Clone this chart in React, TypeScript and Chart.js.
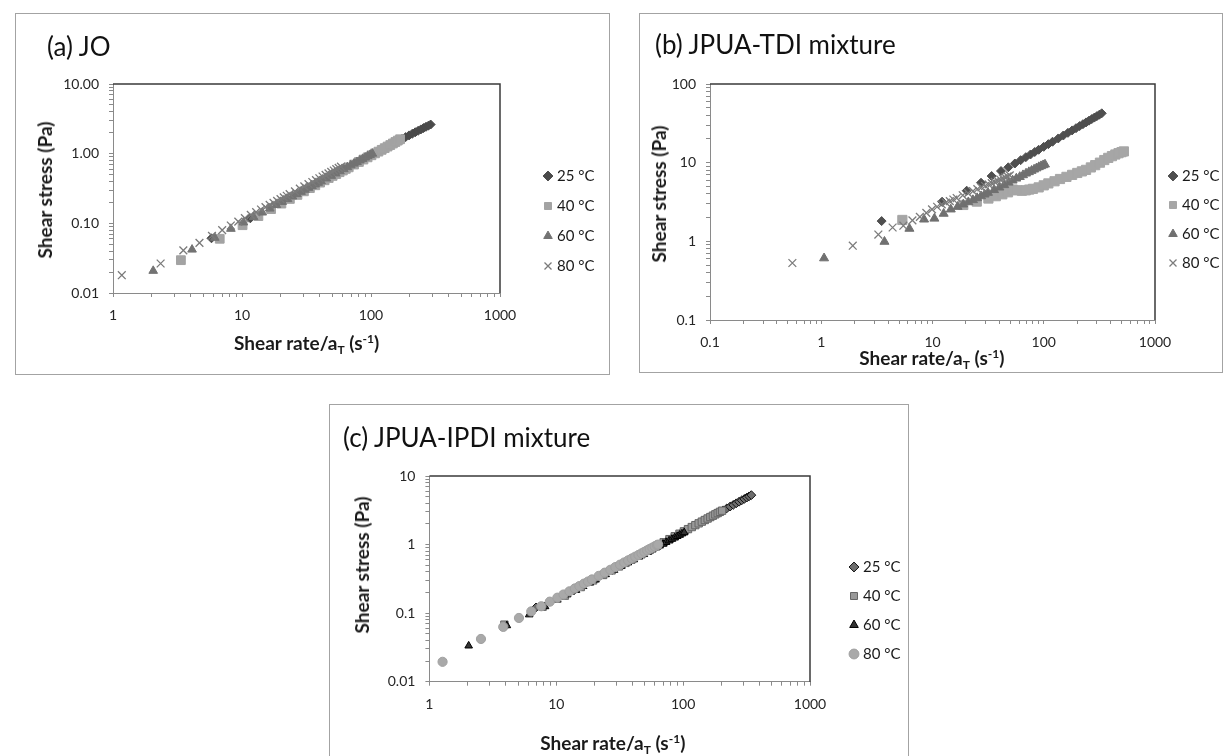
import React, { useEffect, useRef } from 'react';
import { Chart, registerables } from 'chart.js';

Chart.register(...registerables);

const FONT = "Lato, 'DejaVu Sans', sans-serif";
Chart.defaults.font.family = FONT;

// ---------------- common text ----------------
const seriesLabels = ['25 °C', '40 °C', '60 °C', '80 °C'];
const yAxisTitle = 'Shear stress (Pa)';

// ---------------- (a) JO ----------------
const joTitle = '(a) JO';
const joXDecades = [1, 10, 100, 1000];
const joXTickLabels = ['1', '10', '100', '1000'];
const joYDecades = [0.01, 0.1, 1, 10];
const joYTickLabels = ['0.01', '0.10', '1.00', '10.00'];

const joX25 = [5.8, 11.6, 17.4, 23.2, 29, 34.8, 40.6, 46.4, 52.2, 58, 63.8, 69.6, 75.4, 81.2, 87, 92.8, 98.6, 104.4, 110.2, 116, 127.6, 139.2, 150.8, 162.4, 174, 185.6, 197.2, 208.8, 220.4, 232, 243.6, 255.2, 266.8, 278.4, 290];
const joY25 = [0.061, 0.118, 0.175, 0.232, 0.287, 0.342, 0.397, 0.452, 0.507, 0.562, 0.615, 0.67, 0.725, 0.78, 0.835, 0.89, 0.943, 0.995, 1.05, 1.1, 1.21, 1.31, 1.42, 1.52, 1.63, 1.73, 1.83, 1.93, 2.03, 2.13, 2.23, 2.33, 2.43, 2.52, 2.62];
const joX40 = [3.36, 6.72, 10.1, 13.4, 16.8, 20.2, 23.5, 26.9, 30.2, 33.6, 37, 40.3, 43.7, 47, 50.4, 53.8, 57.1, 60.5, 63.8, 67.2, 73.9, 80.6, 87.4, 94.1, 100.8, 107.5, 114.2, 121, 127.7, 134.4, 141.1, 147.8, 154.6, 161.3, 168];
const joY40 = [0.0296, 0.06, 0.094, 0.127, 0.16, 0.192, 0.224, 0.256, 0.288, 0.32, 0.352, 0.384, 0.415, 0.447, 0.479, 0.51, 0.542, 0.573, 0.605, 0.636, 0.698, 0.76, 0.823, 0.885, 0.948, 1.01, 1.07, 1.135, 1.2, 1.265, 1.33, 1.4, 1.47, 1.54, 1.61];
const joX60 = [2.05, 4.1, 6.15, 8.2, 10.25, 12.3, 14.35, 16.4, 18.45, 20.5, 22.55, 24.6, 26.65, 28.7, 30.75, 32.8, 34.85, 36.9, 38.95, 41, 45.1, 49.2, 53.3, 57.4, 61.5, 65.6, 69.7, 73.8, 77.9, 82, 86.1, 90.2, 94.3, 98.4, 102.5];
const joY60 = [0.0208, 0.042, 0.062, 0.0834, 0.103, 0.123, 0.143, 0.163, 0.183, 0.203, 0.223, 0.243, 0.263, 0.283, 0.303, 0.323, 0.342, 0.362, 0.382, 0.402, 0.441, 0.48, 0.52, 0.56, 0.6, 0.64, 0.68, 0.72, 0.76, 0.8, 0.84, 0.88, 0.92, 0.96, 1.0];
const joX80 = [1.17, 2.34, 3.51, 4.68, 5.85, 7.02, 8.19, 9.36, 10.53, 11.7, 12.87, 14.04, 15.21, 16.38, 17.55, 18.72, 19.89, 21.06, 22.23, 23.4, 25.74, 28.08, 30.42, 32.76, 35.1, 37.44, 39.78, 42.12, 44.46, 46.8, 49.14, 51.48, 53.82, 56.16, 58.5];
const joY80 = [0.018, 0.0265, 0.041, 0.0525, 0.066, 0.08, 0.093, 0.106, 0.119, 0.132, 0.145, 0.158, 0.171, 0.184, 0.197, 0.21, 0.223, 0.236, 0.249, 0.262, 0.288, 0.314, 0.34, 0.366, 0.392, 0.418, 0.444, 0.47, 0.496, 0.522, 0.547, 0.573, 0.6, 0.625, 0.65];

// ---------------- (b) JPUA-TDI mixture ----------------
const tdiTitle = '(b) JPUA-TDI mixture';
const tdiXDecades = [0.1, 1, 10, 100, 1000];
const tdiXTickLabels = ['0.1', '1', '10', '100', '1000'];
const tdiYDecades = [0.1, 1, 10, 100];
const tdiYTickLabels = ['0.1', '1', '10', '100'];

const tdiX25 = [3.49, 12.2, 20.3, 27.3, 34, 41.3, 48, 55, 62, 69, 76, 83, 90, 100, 110, 120, 135, 150, 165, 180, 195, 210, 225, 240, 255, 270, 285, 300, 316, 332];
const tdiY25 = [1.81, 3.19, 4.4, 5.56, 6.76, 7.83, 8.73, 9.76, 10.76, 11.74, 12.71, 13.66, 14.59, 15.9, 17.19, 18.46, 20.32, 22.15, 23.94, 25.7, 27.44, 29.15, 30.85, 32.51, 34.17, 35.8, 37.42, 39.02, 40.71, 42.4];
const tdiX40 = [5.36, 18.9, 25, 31.8, 37.1, 42.4, 47.7, 52.6, 58, 63.6, 69, 74, 80, 90, 100, 110, 125, 140, 160, 180, 200, 220, 240, 265, 290, 320, 350, 380, 410, 440, 470, 500, 525];
const tdiY40 = [1.87, 2.9, 3.2, 3.5, 3.75, 3.96, 4.2, 4.55, 4.45, 4.4, 4.45, 4.55, 4.65, 4.85, 5.15, 5.45, 5.8, 6.2, 6.6, 7.0, 7.4, 7.75, 8.1, 8.7, 9.3, 10.0, 10.8, 11.5, 12.1, 12.7, 13.2, 13.6, 13.9];
const tdiX60 = [1.06, 3.7, 6.2, 8.4, 10.4, 12.6, 14.6, 16.8, 18.9, 21, 23.1, 25.2, 27.3, 29.4, 31.5, 35.7, 39.9, 44.1, 48.3, 52.5, 56.7, 60.9, 65.1, 69.3, 73.5, 77.7, 81.9, 86.1, 90.3, 94.5, 98.7, 102.6];
const tdiY60 = [0.61, 0.99, 1.45, 1.9, 1.95, 2.25, 2.55, 2.75, 2.95, 3.15, 3.35, 3.55, 3.75, 3.95, 4.15, 4.5, 4.85, 5.2, 5.6, 5.95, 6.3, 6.6, 6.95, 7.3, 7.6, 7.9, 8.2, 8.5, 8.8, 9.05, 9.3, 9.5];
const tdiX80 = [0.55, 1.92, 3.26, 4.38, 5.47, 6.6, 7.7, 8.8, 9.9, 11, 12.1, 13.2, 14.3, 15.4, 16.5, 18.7, 20.9, 23.1, 25.3, 27.5, 29.7, 31.9, 34.1, 36.3, 38.5, 40.7, 42.9, 45.1, 47.3, 49.5];
const tdiY80 = [0.53, 0.88, 1.22, 1.5, 1.58, 1.85, 2.05, 2.3, 2.55, 2.75, 2.95, 3.1, 3.25, 3.4, 3.55, 3.85, 4.1, 4.35, 4.6, 4.85, 5.05, 5.3, 5.5, 5.7, 5.9, 6.1, 6.3, 6.5, 6.7, 6.9];

// ---------------- (c) JPUA-IPDI mixture ----------------
const ipdiTitle = '(c) JPUA-IPDI mixture';
const ipdiXDecades = [1, 10, 100, 1000];
const ipdiXTickLabels = ['1', '10', '100', '1000'];
const ipdiYDecades = [0.01, 0.1, 1, 10];
const ipdiYTickLabels = ['0.01', '0.1', '1', '10'];

const ipdiX25 = [6.92, 13.8, 20.7, 27.6, 34.5, 41.4, 48.3, 55.2, 62.1, 69, 75.9, 82.8, 89.7, 96.6, 103.5, 110.4, 124.2, 138, 151.8, 165.6, 179.4, 193.2, 207, 220.8, 234.6, 248.4, 262.2, 276, 289.8, 303.6, 317.4, 331.2, 345];
const ipdiY25 = [0.121, 0.215, 0.32, 0.425, 0.53, 0.635, 0.74, 0.845, 0.95, 1.06, 1.16, 1.27, 1.37, 1.48, 1.58, 1.69, 1.9, 2.11, 2.32, 2.53, 2.74, 2.95, 3.16, 3.37, 3.58, 3.79, 4.0, 4.21, 4.42, 4.63, 4.84, 5.05, 5.26];
const ipdiX40 = [3.9, 7.8, 11.7, 15.6, 19.5, 23.4, 27.3, 31.2, 35.1, 39, 46.8, 54.6, 62.4, 70.2, 78, 85.8, 93.6, 101.4, 109.2, 117, 124.8, 132.6, 140.4, 148.2, 156, 163.8, 171.6, 179.4, 187.2, 195, 202.8];
const ipdiY40 = [0.068, 0.124, 0.18, 0.24, 0.3, 0.36, 0.42, 0.48, 0.54, 0.6, 0.72, 0.84, 0.96, 1.08, 1.2, 1.32, 1.44, 1.56, 1.68, 1.8, 1.92, 2.04, 2.16, 2.28, 2.4, 2.52, 2.64, 2.76, 2.88, 3.0, 3.12];
const ipdiX60 = [2.04, 4.08, 6.12, 8.16, 10.2, 12.2, 14.3, 16.3, 18.4, 20.4, 24.5, 28.6, 32.6, 36.7, 40.8, 44.9, 49, 53, 57.1, 61.2, 65.3, 69.4, 73.4, 77.5, 81.6, 85.7, 89.8, 93.8, 97.9, 102];
const ipdiY60 = [0.0334, 0.066, 0.095, 0.125, 0.156, 0.186, 0.216, 0.246, 0.276, 0.306, 0.366, 0.425, 0.485, 0.544, 0.603, 0.662, 0.72, 0.78, 0.84, 0.9, 0.96, 1.02, 1.08, 1.14, 1.2, 1.26, 1.32, 1.38, 1.44, 1.5];
const ipdiX80 = [1.27, 2.55, 3.82, 5.08, 6.35, 7.62, 8.89, 10.2, 11.4, 12.7, 14.0, 15.2, 16.5, 17.8, 19.1, 21.6, 24.1, 26.7, 29.2, 31.8, 34.3, 36.8, 39.4, 41.9, 44.5, 47.0, 49.5, 52.1, 54.6, 57.2, 59.7, 62.2, 63.5];
const ipdiY80 = [0.0195, 0.042, 0.063, 0.085, 0.106, 0.126, 0.147, 0.168, 0.187, 0.208, 0.229, 0.248, 0.269, 0.289, 0.31, 0.349, 0.389, 0.429, 0.469, 0.509, 0.548, 0.587, 0.627, 0.666, 0.706, 0.745, 0.784, 0.824, 0.863, 0.902, 0.941, 0.979, 0.999];

// ---------------- helpers ----------------
type Style = { pointStyle: string; radius: number; fill: string; stroke: string; width: number };

function makeDataset(label: string, xs: number[], ys: number[], st: Style, order: number) {
  return {
    label,
    order,
    data: xs.map((x, i) => ({ x, y: ys[i] })),
    pointStyle: st.pointStyle,
    pointRadius: st.radius,
    pointHoverRadius: st.radius,
    backgroundColor: st.fill,
    borderColor: st.stroke,
    borderWidth: st.width,
    showLine: false,
    xAxisID: 'x',
    yAxisID: 'y',
  };
}

function logTicks(decades: number[]) {
  const t: { value: number }[] = [];
  decades.forEach((d, i) => {
    t.push({ value: d });
    if (i < decades.length - 1) {
      for (let k = 2; k <= 9; k++) t.push({ value: parseFloat((d * k).toPrecision(6)) });
    }
  });
  return t;
}

function labelFor(decades: number[], labels: string[]) {
  return (v: number) => {
    const i = decades.findIndex((d) => Math.abs(v - d) < d * 1e-6);
    return i >= 0 ? labels[i] : '';
  };
}

const framePlugin = {
  id: 'plotFrame',
  afterDatasetsDraw(chart: any) {
    const { ctx, chartArea } = chart;
    const { left, right, top, bottom } = chartArea;
    ctx.save();
    ctx.strokeStyle = '#3a3a3a';
    ctx.lineWidth = 1.5;
    ctx.beginPath();
    ctx.moveTo(left, top);
    ctx.lineTo(right, top);
    ctx.lineTo(right, bottom);
    ctx.stroke();
    ctx.restore();
  },
};

// keeps the legend box at a fixed width so the plot area lands where wanted
const fixedLegendPlugin = {
  id: 'fixedLegendWidth',
  beforeUpdate(chart: any, _args: any, opts: any) {
    const lg = chart.legend;
    if (lg && opts && opts.width && !lg.__fixedWidth) {
      const originalFit = lg.fit;
      lg.fit = function () {
        originalFit.call(this);
        this.width = opts.width;
      };
      lg.__fixedWidth = true;
    }
  },
};

type Panel = {
  id: string;
  title: string;
  box: { left: number; top: number; width: number; height: number };
  canvas: { left: number; top: number; w: number; h: number };
  titlePos: { left: number; top: number };
  xTitle: { cx: number; top: number };
  yTitle: { cx: number; cy: number };
  pad: { left: number; top: number; right: number; bottom: number };
  yW: number;
  xH: number;
  gap: number;
  legendW: number;
  legendP: number;
  legendTitlePad: number;
  xDecades: number[];
  xLabels: string[];
  yDecades: number[];
  yLabels: string[];
  datasets: any[];
};

const styleA: Style[] = [
  { pointStyle: 'rectRot', radius: 4.5, fill: '#4a4a4a', stroke: '#4a4a4a', width: 1 },
  { pointStyle: 'rect', radius: 6.2, fill: '#a3a3a3', stroke: '#a3a3a3', width: 1 },
  { pointStyle: 'triangle', radius: 5, fill: '#737373', stroke: '#737373', width: 1 },
  { pointStyle: 'crossRot', radius: 5.5, fill: 'rgba(0,0,0,0)', stroke: '#7a7a7a', width: 1.3 },
];
const styleB: Style[] = [
  { pointStyle: 'rectRot', radius: 4.5, fill: '#4f4f4f', stroke: '#4f4f4f', width: 1 },
  { pointStyle: 'rect', radius: 6.5, fill: '#a6a6a6', stroke: '#a6a6a6', width: 1 },
  { pointStyle: 'triangle', radius: 5.2, fill: '#707070', stroke: '#707070', width: 1 },
  { pointStyle: 'crossRot', radius: 5.5, fill: 'rgba(0,0,0,0)', stroke: '#7c7c7c', width: 1.3 },
];
const styleC: Style[] = [
  { pointStyle: 'rectRot', radius: 4.4, fill: '#6e6e6e', stroke: '#111111', width: 1 },
  { pointStyle: 'rect', radius: 5.2, fill: '#999999', stroke: '#666666', width: 1 },
  { pointStyle: 'triangle', radius: 4.4, fill: '#333333', stroke: '#000000', width: 1 },
  { pointStyle: 'circle', radius: 4.6, fill: '#a9a9a9', stroke: '#a0a0a0', width: 1 },
];

function datasetsFor(xs: number[][], ys: number[][], styles: Style[]) {
  return seriesLabels.map((lab, i) => makeDataset(lab, xs[i], ys[i], styles[i], 4 - i));
}

const panels: Panel[] = [
  {
    id: 'a',
    title: joTitle,
    box: { left: 15, top: 13, width: 595, height: 362 },
    canvas: { left: 16, top: 14, w: 593, h: 360 },
    titlePos: { left: 47, top: 31 },
    xTitle: { cx: 306.6, top: 332.5 },
    yTitle: { cx: 44.9, cy: 190 },
    pad: { left: 15, top: 70, right: 7.5, bottom: 0 },
    yW: 82,
    xH: 81,
    gap: 31.5,
    legendW: 70,
    legendP: 15,
    legendTitlePad: 57.5,
    xDecades: joXDecades,
    xLabels: joXTickLabels,
    yDecades: joYDecades,
    yLabels: joYTickLabels,
    datasets: datasetsFor([joX25, joX40, joX60, joX80], [joY25, joY40, joY60, joY80], styleA),
  },
  {
    id: 'b',
    title: tdiTitle,
    box: { left: 639, top: 13, width: 584, height: 360 },
    canvas: { left: 640, top: 14, w: 582, h: 358 },
    titlePos: { left: 655, top: 29 },
    xTitle: { cx: 931.9, top: 347.8 },
    yTitle: { cx: 658.5, cy: 193.5 },
    pad: { left: 5, top: 70, right: 0.5, bottom: 0 },
    yW: 65,
    xH: 52,
    gap: 2.5,
    legendW: 64,
    legendP: 14,
    legendTitlePad: 58.5,
    xDecades: tdiXDecades,
    xLabels: tdiXTickLabels,
    yDecades: tdiYDecades,
    yLabels: tdiYTickLabels,
    datasets: datasetsFor([tdiX25, tdiX40, tdiX60, tdiX80], [tdiY25, tdiY40, tdiY60, tdiY80], styleB),
  },
  {
    id: 'c',
    title: ipdiTitle,
    box: { left: 329, top: 404, width: 580, height: 420 },
    canvas: { left: 330, top: 405, w: 578, h: 351 },
    titlePos: { left: 343, top: 422 },
    xTitle: { cx: 612.8, top: 732.8 },
    yTitle: { cx: 362, cy: 565 },
    pad: { left: 18, top: 71, right: 5.5, bottom: 0 },
    yW: 81.4,
    xH: 74.3,
    gap: 28.5,
    legendW: 64,
    legendP: 14,
    legendTitlePad: 57.5,
    xDecades: ipdiXDecades,
    xLabels: ipdiXTickLabels,
    yDecades: ipdiYDecades,
    yLabels: ipdiYTickLabels,
    datasets: datasetsFor([ipdiX25, ipdiX40, ipdiX60, ipdiX80], [ipdiY25, ipdiY40, ipdiY60, ipdiY80], styleC),
  },
];

function buildConfig(p: Panel): any {
  const tickFont = { family: FONT, size: 14 };
  const axisColor = '#8a8a8a';
  return {
    type: 'scatter',
    data: { datasets: p.datasets },
    options: {
      responsive: false,
      animation: false,
      events: [],
      layout: { padding: p.pad },
      plugins: {
        fixedLegendWidth: { width: p.legendW },
        legend: {
          position: 'right',
          align: 'start',
          title: {
            display: true,
            text: ' ',
            padding: { top: p.legendTitlePad, bottom: 0 },
            font: { family: FONT, size: 10 },
          },
          labels: {
            usePointStyle: true,
            boxWidth: 3,
            boxHeight: 7,
            padding: p.legendP,
            color: '#1a1a1a',
            font: { family: FONT, size: 15 },
            sort: (a: any, b: any) => a.datasetIndex - b.datasetIndex,
          },
        },
        tooltip: { enabled: false },
      },
      scales: {
        x: {
          type: 'logarithmic',
          position: 'bottom',
          min: p.xDecades[0],
          max: p.xDecades[p.xDecades.length - 1],
          afterBuildTicks: (s: any) => {
            s.ticks = logTicks(p.xDecades);
          },
          afterFit: (s: any) => {
            s.height = p.xH;
          },
          ticks: {
            callback: labelFor(p.xDecades, p.xLabels),
            autoSkip: false,
            maxRotation: 0,
            minRotation: 0,
            padding: 10,
            color: '#262626',
            font: tickFont,
          },
          grid: { drawOnChartArea: false, drawTicks: true, tickLength: 4, color: axisColor },
          border: { display: true, color: axisColor, width: 1 },
          title: { display: false },
        },
        y: {
          type: 'logarithmic',
          position: 'left',
          min: p.yDecades[0],
          max: p.yDecades[p.yDecades.length - 1],
          afterBuildTicks: (s: any) => {
            s.ticks = logTicks(p.yDecades);
          },
          afterFit: (s: any) => {
            s.width = p.yW;
          },
          ticks: {
            callback: labelFor(p.yDecades, p.yLabels),
            autoSkip: false,
            padding: 10,
            color: '#262626',
            font: tickFont,
          },
          grid: { drawOnChartArea: false, drawTicks: true, tickLength: 4, color: axisColor },
          border: { display: true, color: axisColor, width: 1 },
          title: { display: false },
        },
        gap: {
          type: 'linear',
          position: 'right',
          display: true,
          min: 0,
          max: 1,
          ticks: { display: false },
          grid: { display: false, drawTicks: false },
          border: { display: false },
          afterFit: (s: any) => {
            s.width = p.gap;
          },
        },
      },
    },
    plugins: [fixedLegendPlugin, framePlugin],
  };
}

function PanelView({ p }: { p: Panel }) {
  const ref = useRef<HTMLCanvasElement | null>(null);
  useEffect(() => {
    if (!ref.current) return;
    const chart = new Chart(ref.current, buildConfig(p));
    return () => chart.destroy();
  }, []);
  return (
    <>
      <div
        style={{
          position: 'absolute',
          left: p.box.left,
          top: p.box.top,
          width: p.box.width,
          height: p.box.height,
          border: '1px solid #a3a3a3',
          boxSizing: 'border-box',
          background: '#fff',
        }}
      />
      <canvas
        ref={ref}
        width={p.canvas.w}
        height={p.canvas.h}
        style={{
          position: 'absolute',
          left: p.canvas.left,
          top: p.canvas.top,
          width: p.canvas.w,
          height: p.canvas.h,
          display: 'block',
        }}
      />
      <div
        style={{
          position: 'absolute',
          left: p.titlePos.left,
          top: p.titlePos.top,
          font: `26px ${FONT}`,
          lineHeight: '30px',
          color: '#111',
          whiteSpace: 'nowrap',
        }}
      >
        {p.title}
      </div>
      <div
        style={{
          position: 'absolute',
          left: p.yTitle.cx,
          top: p.yTitle.cy,
          transform: 'translate(-50%, -50%) rotate(-90deg)',
          font: `bold 19px ${FONT}`,
          lineHeight: '22px',
          color: '#1a1a1a',
          whiteSpace: 'nowrap',
        }}
      >
        {yAxisTitle}
      </div>
      <div
        style={{
          position: 'absolute',
          left: p.xTitle.cx - 150,
          top: p.xTitle.top,
          width: 300,
          textAlign: 'center',
          font: `bold 19px ${FONT}`,
          lineHeight: '20px',
          color: '#1a1a1a',
          whiteSpace: 'nowrap',
        }}
      >
        Shear rate/a
        <span style={{ fontSize: 12, position: 'relative', top: 4 }}>T</span> (s
        <span style={{ fontSize: 12, position: 'relative', top: -7 }}>-1</span>)
      </div>
    </>
  );
}

export default function App() {
  return (
    <div
      style={{
        position: 'fixed',
        left: 0,
        top: 0,
        width: 1224,
        height: 756,
        background: '#fff',
        overflow: 'hidden',
        fontFamily: FONT,
      }}
    >
      {panels.map((p) => (
        <PanelView key={p.id} p={p} />
      ))}
    </div>
  );
}
